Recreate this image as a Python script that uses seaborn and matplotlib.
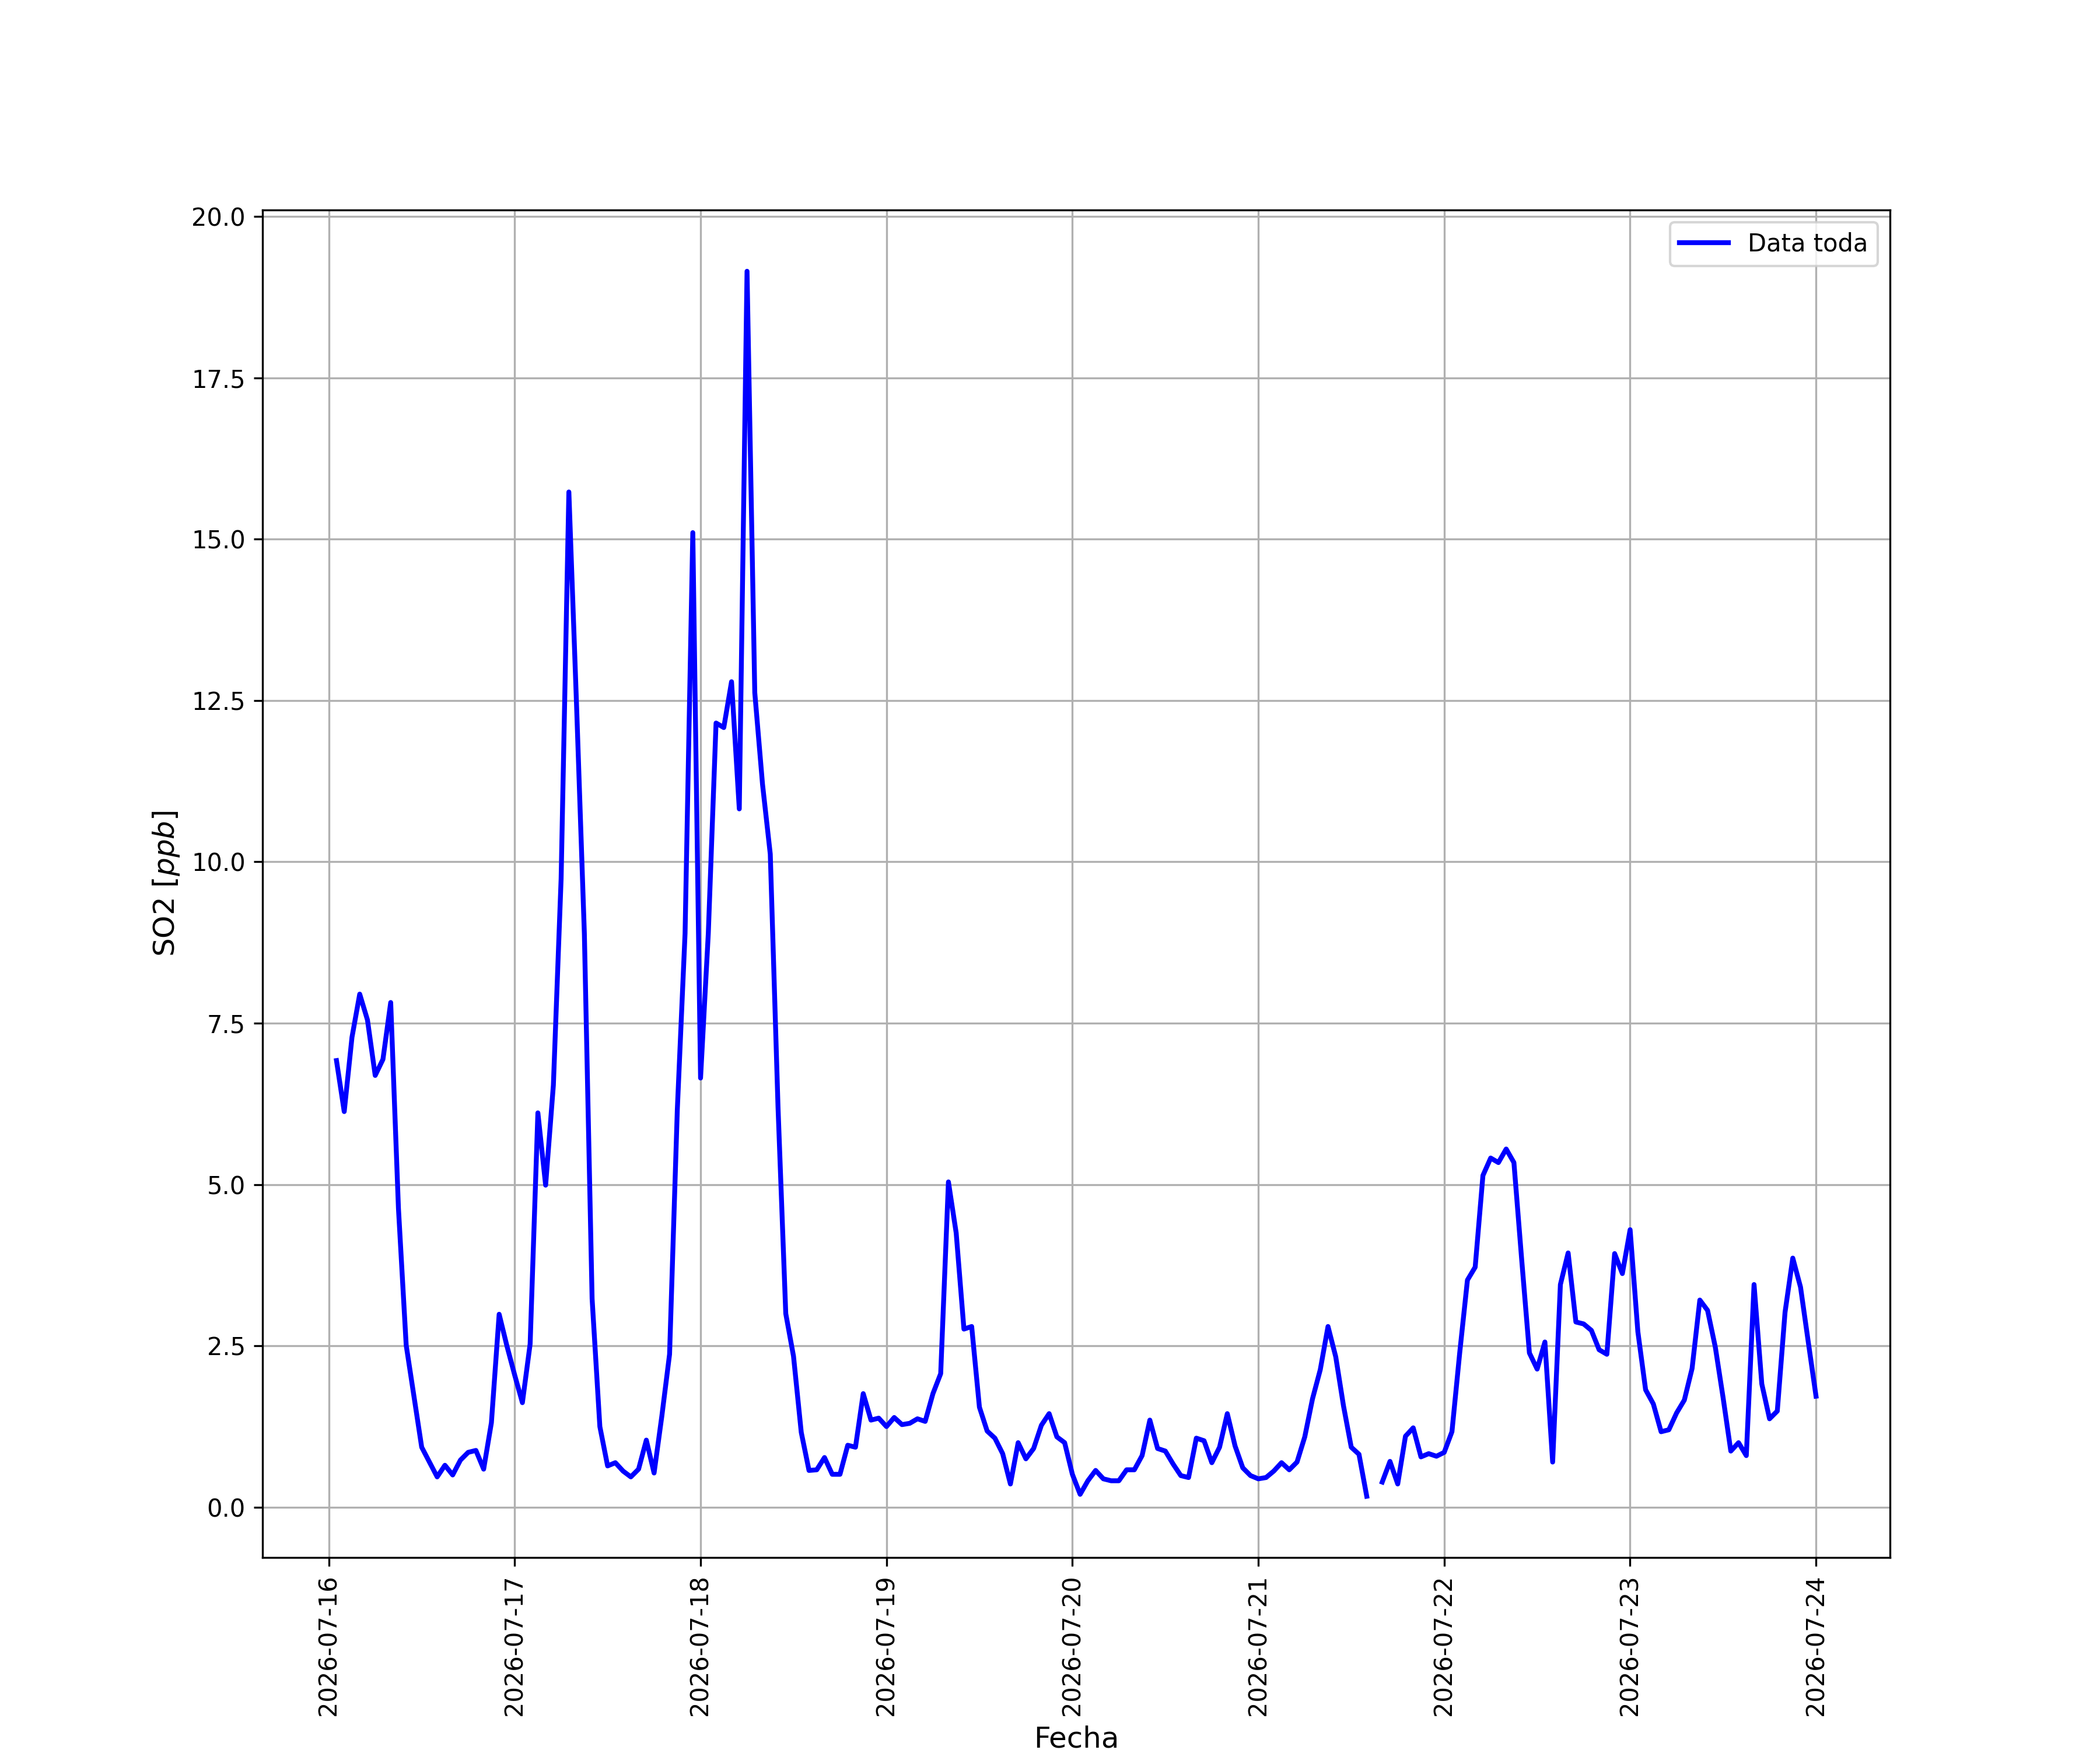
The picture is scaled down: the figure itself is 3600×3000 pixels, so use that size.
import numpy as np
import pandas as pd
import matplotlib
matplotlib.use('Agg')
import matplotlib.pyplot as plt
import seaborn as sns

# Serie horaria de SO2 (ppb), desde 2026-07-16 01:00 hasta 2026-07-24 00:00
inicio = '2026-07-16 01:00'
fin = '2026-07-24 00:00'

so2_16 = [6.92, 6.13, 7.28, 7.95, 7.55, 6.69, 6.94, 7.82, 4.63, 2.51, 1.72, 0.93,
          0.70, 0.47, 0.65, 0.50, 0.73, 0.85, 0.88, 0.59, 1.31, 2.99, 2.50]
so2_17 = [2.05, 1.62, 2.53, 6.11, 4.99, 6.54, 9.74, 15.73, 12.40, 8.89, 3.23, 1.25,
          0.64, 0.69, 0.56, 0.47, 0.59, 1.04, 0.53, 1.41, 2.37, 6.16, 8.89, 15.10]
so2_18 = [6.65, 8.89, 12.15, 12.08, 12.79, 10.82, 19.15, 12.62, 11.20, 10.12, 6.20, 3.00,
          2.34, 1.16, 0.57, 0.58, 0.77, 0.51, 0.51, 0.96, 0.93, 1.76, 1.35, 1.38]
so2_19 = [1.25, 1.39, 1.28, 1.30, 1.37, 1.33, 1.76, 2.07, 5.04, 4.25, 2.76, 2.80,
          1.55, 1.18, 1.07, 0.83, 0.36, 1.00, 0.75, 0.91, 1.27, 1.45, 1.09, 1.00]
so2_20 = [0.51, 0.20, 0.41, 0.57, 0.44, 0.41, 0.41, 0.58, 0.58, 0.80, 1.35, 0.91,
          0.87, 0.67, 0.49, 0.46, 1.07, 1.03, 0.69, 0.93, 1.45, 0.95, 0.61, 0.49]
so2_21 = [0.44, 0.46, 0.56, 0.69, 0.58, 0.70, 1.09, 1.68, 2.13, 2.80, 2.33, 1.57,
          0.93, 0.82, 0.17, np.nan, 0.39, 0.71, 0.36, 1.10, 1.23, 0.78, 0.83, 0.79]
so2_22 = [0.85, 1.17, 2.39, 3.52, 3.72, 5.14, 5.41, 5.34, 5.55, 5.34, 3.84, 2.39,
          2.14, 2.56, 0.70, 3.45, 3.94, 2.87, 2.84, 2.74, 2.44, 2.37, 3.93, 3.62]
so2_23 = [4.30, 2.72, 1.82, 1.60, 1.17, 1.20, 1.46, 1.66, 2.15, 3.21, 3.05, 2.48,
          1.70, 0.87, 1.00, 0.80, 3.45, 1.91, 1.37, 1.49, 3.02, 3.86, 3.41, 2.56]
so2_24 = [1.72]

valores = so2_16 + so2_17 + so2_18 + so2_19 + so2_20 + so2_21 + so2_22 + so2_23 + so2_24
fechas = pd.date_range(inicio, fin, freq='h')

df = pd.DataFrame({'fecha': fechas, 'so2': valores})
# tramos separados por el dato faltante
df['tramo'] = df['so2'].isna().cumsum()
df = df.dropna()

plt.figure(figsize=(12, 10))
ax = sns.lineplot(data=df, x='fecha', y='so2', units='tramo', estimator=None,
                  color='blue', linewidth=2, label='Data toda')
handles, labels = ax.get_legend_handles_labels()
ax.legend(handles[:1], labels[:1], loc='upper right', fontsize=10)
plt.grid(True)
plt.xticks(rotation=90, fontsize=10)
plt.yticks(fontsize=10)
plt.xlabel('Fecha', fontsize=12)
plt.ylabel('SO2 [$ppb$]', fontsize=12)
plt.savefig('out.png', dpi=300)
